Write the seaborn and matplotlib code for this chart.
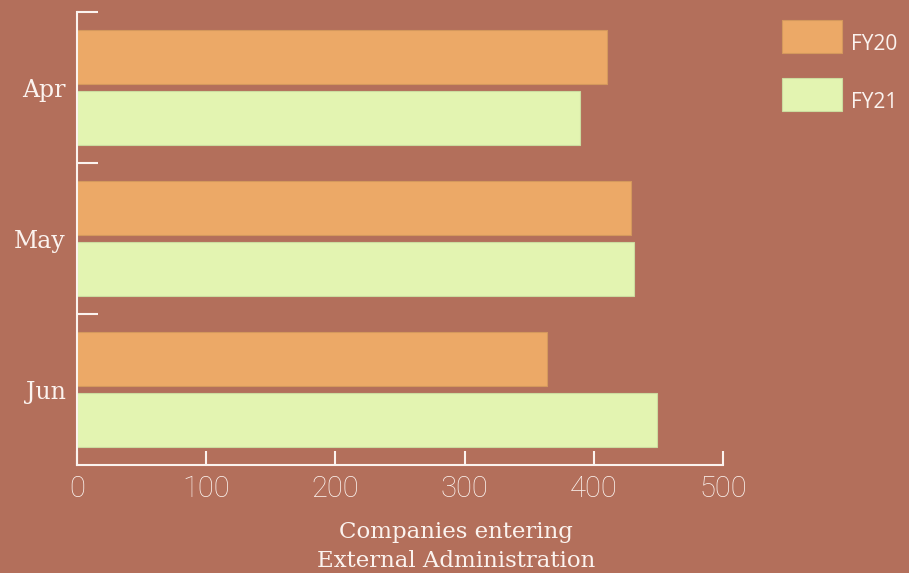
import matplotlib
matplotlib.use("Agg")
import matplotlib.pyplot as plt
import seaborn as sns
import pandas as pd

months = ["Apr", "May", "Jun"]
fy20 = [410, 429, 364]
fy21 = [389, 431, 449]
series = ["FY20", "FY21"]
x_ticks = [0, 100, 200, 300, 400, 500]

bg = "#B36F5B"
c20 = "#ECA967"
c21 = "#E3F4B1"
fg = "#FBF3EF"

df = pd.DataFrame({
    "month": months * 2,
    "value": fy20 + fy21,
    "series": [series[0]] * 3 + [series[1]] * 3,
})

sns.set_style("white")
fig = plt.figure(figsize=(9.09, 5.73), dpi=100, facecolor=bg)
ax = fig.add_axes([77 / 909, 1 - 465 / 573, 646 / 909, 453 / 573])
ax.set_facecolor(bg)

sns.barplot(data=df, y="month", x="value", hue="series", order=months,
            hue_order=series, palette=[c20, c21], orient="h", width=0.8,
            gap=0.1, saturation=1, ax=ax, legend=True)

for p in ax.patches:
    fc = p.get_facecolor()
    p.set_edgecolor(tuple(v * 0.9 for v in fc[:3]) + (1,))
    p.set_linewidth(0.8)

ax.set_xlim(0, 500)
ax.set_ylim(2.5, -0.5)
ax.set_xticks(x_ticks)
ax.set_xticklabels([str(v) for v in x_ticks], family="Roboto", fontweight="light",
                   fontsize=21, color=fg)
ax.set_yticks(range(len(months)))
ax.set_yticklabels(months, family="DejaVu Serif", fontweight="light", fontsize=17, color=fg)
ax.tick_params(axis="y", which="major", left=True, length=0, pad=8)
ax.tick_params(axis="x", which="major", bottom=True, direction="in", length=10,
               width=1.5, color=fg, pad=7)
ax.set_yticks([-0.5, 0.5, 1.5], minor=True)
ax.tick_params(axis="y", which="minor", left=True, direction="in", length=15,
               width=1.5, color=fg)
ax.set_xlabel("")
ax.set_ylabel("")

for s in ["top", "right"]:
    ax.spines[s].set_visible(False)
for s in ["left", "bottom"]:
    ax.spines[s].set_color(fg)
    ax.spines[s].set_linewidth(1.5)

handles, labels = ax.get_legend_handles_labels()
ax.get_legend().remove()
leg = ax.legend(handles, labels, loc="upper left", bbox_to_anchor=(782 / 909, 1 - 20 / 573),
                bbox_transform=fig.transFigure, frameon=False, borderpad=0,
                borderaxespad=0, handlelength=2.9, handleheight=2.06,
                labelspacing=1.21, handletextpad=0.4,
                prop={"family": "Open Sans", "size": 15})
for t in leg.get_texts():
    t.set_color(fg)
    t.set_y(-7)

fig.text(0.502, 1 - 532 / 573, "Companies entering",
         ha="center", va="center", family="DejaVu Serif", fontsize=16.5, color=fg)
fig.text(0.502, 1 - 561 / 573, "External Administration",
         ha="center", va="center", family="DejaVu Serif", fontsize=16.5, color=fg)

fig.savefig("out.png", dpi=100, facecolor=bg)
